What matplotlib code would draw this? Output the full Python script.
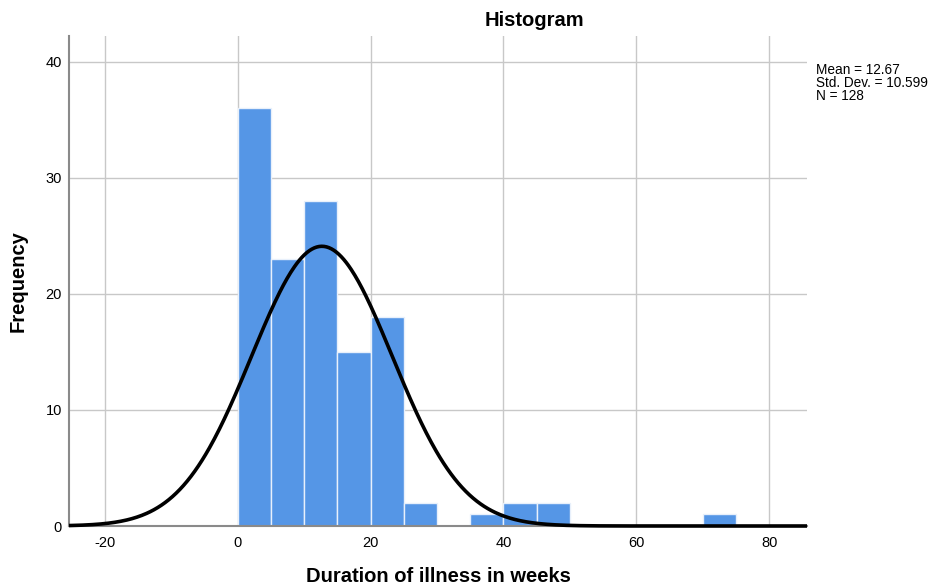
import numpy as np
import matplotlib
matplotlib.use("Agg")
import matplotlib.pyplot as plt

plt.rcParams['font.family'] = ['Liberation Sans', 'DejaVu Sans']
plt.rcParams['axes.unicode_minus'] = False

# Histogram bins (width 5 weeks) and counts
bin_edges = [0, 5, 10, 15, 20, 25, 30, 35, 40, 45, 50, 55, 60, 65, 70, 75]
counts = [36, 23, 28, 15, 18, 2, 0, 1, 2, 2, 0, 0, 0, 0, 1]

mean = 12.67
std_dev = 10.599
n = 128
bin_width = 5

x_ticks = [-20, 0, 20, 40, 60, 80]
y_ticks = [0, 10, 20, 30, 40]

fig = plt.figure(figsize=(9.3, 5.86), dpi=100)
ax = fig.add_axes([69 / 930, 1 - 526 / 586, (807 - 69) / 930, (526 - 36) / 586])

xmin, xmax = -25.4, 85.7
ax.set_xlim(xmin, xmax)
ax.set_ylim(0, 42.2)

ax.set_xticks(x_ticks)
ax.set_yticks(y_ticks)
ax.grid(True, color='#c8c8c8', linewidth=1.0, zorder=0)
ax.set_axisbelow(True)
ax.tick_params(length=0, labelsize=10.5, pad=7, colors='#000000')
ax.tick_params(axis='y', pad=5)

for side in ('top', 'right'):
    ax.spines[side].set_visible(False)
for side in ('left', 'bottom'):
    ax.spines[side].set_color('#8a8a8a')
    ax.spines[side].set_linewidth(1.5)

lefts = bin_edges[:-1]
ax.bar(lefts, counts, width=bin_width, align='edge', color='#5596e6',
       edgecolor='#e8f0fb', linewidth=1.0, zorder=2)

# Normal curve scaled to the histogram
xs = np.linspace(xmin, xmax, 600)
ys = n * bin_width / (std_dev * np.sqrt(2 * np.pi)) * np.exp(-0.5 * ((xs - mean) / std_dev) ** 2)
ax.plot(xs, ys, color='black', linewidth=2.6, zorder=3, clip_on=False,
        solid_capstyle='butt')

fig.text(534 / 930, 1 - 20 / 586, 'Histogram', ha='center', va='center',
         fontsize=14.5, fontweight='bold')
fig.text(438 / 930, 1 - 576 / 586, 'Duration of illness in weeks', ha='center',
         va='center', fontsize=14.5, fontweight='bold')
fig.text(18 / 930, 1 - 281 / 586, 'Frequency', ha='center', va='center',
         rotation=90, fontsize=14.5, fontweight='bold')

stats = ['Mean = 12.67', 'Std. Dev. = 10.599', 'N = 128']
for i, s in enumerate(stats):
    fig.text(816 / 930, 1 - (63 + 13 * i) / 586, s, ha='left', va='top', fontsize=9.8)

fig.savefig('out.png', dpi=100)
